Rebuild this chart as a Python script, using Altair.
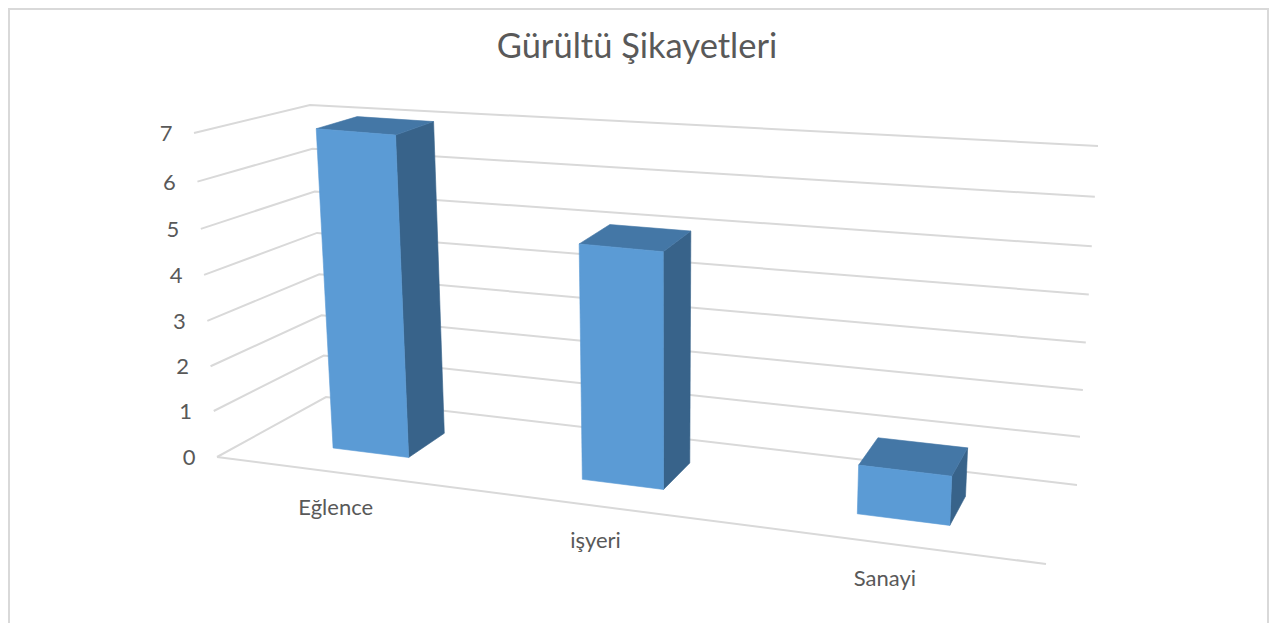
import altair as alt
import pandas as pd

# --- chart values ---
title = "Gürültü Şikayetleri"
categories = ["Eğlence", "işyeri", "Sanayi"]
values = [7, 5, 1]
ticks = [0, 1, 2, 3, 4, 5, 6, 7]
max_tick = 7
# height of every gridline as a share of the wall
tick_share = [0, 0.142, 0.280, 0.420, 0.562, 0.704, 0.850, 1]
bar_stretch = 1.007

# position of every bar along the category axis and the depth axis (0..1)
bar_u0 = [0.101, 0.411, 0.753]
bar_u1 = [0.195, 0.512, 0.868]
bar_d0, bar_d1 = 0.32, 0.70

# perspective frame of the 3-D box as seen in the picture
floor_front = [(217, 457), (1046, 564)]
floor_back = [(326, 397), (1077, 485)]
roof_front = [(194, 133), (1064, 214)]
roof_back = [(310, 105), (1098, 146)]

W, H = 1261, 615   # page pixels 8..1269 and 8..623
GRID, TEXT = "#D9D9D9", "#595959"
FRONT, SIDE, TOP = "#5B9BD5", "#38638A", "#4477A6"


def lerp(a, b, t):
    return (a[0] + (b[0] - a[0]) * t, a[1] + (b[1] - a[1]) * t)


def project(u, d, share):
    """Category position u, depth d and share of the wall height to picture coordinates."""
    low = lerp(lerp(floor_front[0], floor_front[1], u), lerp(floor_back[0], floor_back[1], u), d)
    high = lerp(lerp(roof_front[0], roof_front[1], u), lerp(roof_back[0], roof_back[1], u), d)
    return lerp(low, high, share)


def rows(group, corners):
    out = []
    for i, (u, d, s) in enumerate(corners):
        x, y = project(u, d, s)
        out.append({"g": group, "i": i, "x": x, "y": y})
    return out


grid_rows, front_rows, side_rows, top_rows = [], [], [], []
for t, s in zip(ticks, tick_share):
    grid_rows += rows(f"t{t}", [(0, 0, s), (0, 1, s), (1, 1, s)])
grid_rows += rows("floor", [(0, 0, 0), (1, 0, 0)])
for k, v in enumerate(values):
    a, b = bar_u0[k], bar_u1[k]
    s = v / max_tick * bar_stretch
    front_rows += rows(k, [(a, bar_d0, 0), (b, bar_d0, 0), (b, bar_d0, s), (a, bar_d0, s), (a, bar_d0, 0)])
    side_rows += rows(k, [(b, bar_d0, 0), (b, bar_d1, 0), (b, bar_d1, s), (b, bar_d0, s), (b, bar_d0, 0)])
    top_rows += rows(k, [(a, bar_d0, s), (b, bar_d0, s), (b, bar_d1, s), (a, bar_d1, s), (a, bar_d0, s)])

tick_rows = [dict(zip(("x", "y"), project(0, 0, s)), label=str(t)) for t, s in zip(ticks, tick_share)]
cat_rows = [
    dict(zip(("x", "y"), project((bar_u0[k] + bar_u1[k]) / 2, 0, 0)), label=c)
    for k, c in enumerate(categories)
]
frame_rows = [
    {"g": "frame", "i": 0, "x": 9, "y": 623},
    {"g": "frame", "i": 1, "x": 9, "y": 9},
    {"g": "frame", "i": 2, "x": 1268, "y": 9},
    {"g": "frame", "i": 3, "x": 1268, "y": 623},
]

X = alt.X("x:Q", scale=alt.Scale(domain=[8, 8 + W], nice=False, zero=False), axis=None)
Y = alt.Y("y:Q", scale=alt.Scale(domain=[8 + H, 8], nice=False, zero=False), axis=None)


def poly(data, color):
    return (
        alt.Chart(pd.DataFrame(data))
        .mark_line(fill=color, stroke=color, strokeWidth=0.6, interpolate="linear")
        .encode(x=X, y=Y, order="i:Q", detail="g:N")
    )


def lines(data, color, width):
    return (
        alt.Chart(pd.DataFrame(data))
        .mark_line(stroke=color, strokeWidth=width, interpolate="linear")
        .encode(x=X, y=Y, order="i:Q", detail="g:N")
    )


tick_text = (
    alt.Chart(pd.DataFrame(tick_rows))
    .mark_text(font="Lato", fontSize=22, color=TEXT, dx=-28, dy=1, align="center", baseline="middle")
    .encode(x=X, y=Y, text="label:N")
)
cat_text = (
    alt.Chart(pd.DataFrame(cat_rows))
    .mark_text(font="Lato", fontSize=22, color=TEXT, dx=-4, dy=35, align="center", baseline="middle")
    .encode(x=X, y=Y, text="label:N")
)
title_text = (
    alt.Chart(pd.DataFrame({"label": [title]}))
    .mark_text(font="Lato", fontSize=34.5, color=TEXT, align="center", baseline="middle")
    .encode(x=alt.value(637 - 8), y=alt.value(48 - 8), text="label:N")
)

chart = (
    alt.layer(
        lines(frame_rows, GRID, 2),
        lines(grid_rows, GRID, 2),
        poly(side_rows, SIDE),
        poly(top_rows, TOP),
        poly(front_rows, FRONT),
        tick_text,
        cat_text,
        title_text,
    )
    .properties(
        width=W,
        height=H,
        padding={"left": 0, "top": 0, "right": 0, "bottom": 0},
        autosize=alt.AutoSizeParams(type="none", contains="padding"),
        background="white",
    )
    .configure_view(stroke=None)
)

chart.save("out.html", embed_options={"renderer": "svg", "actions": False})
